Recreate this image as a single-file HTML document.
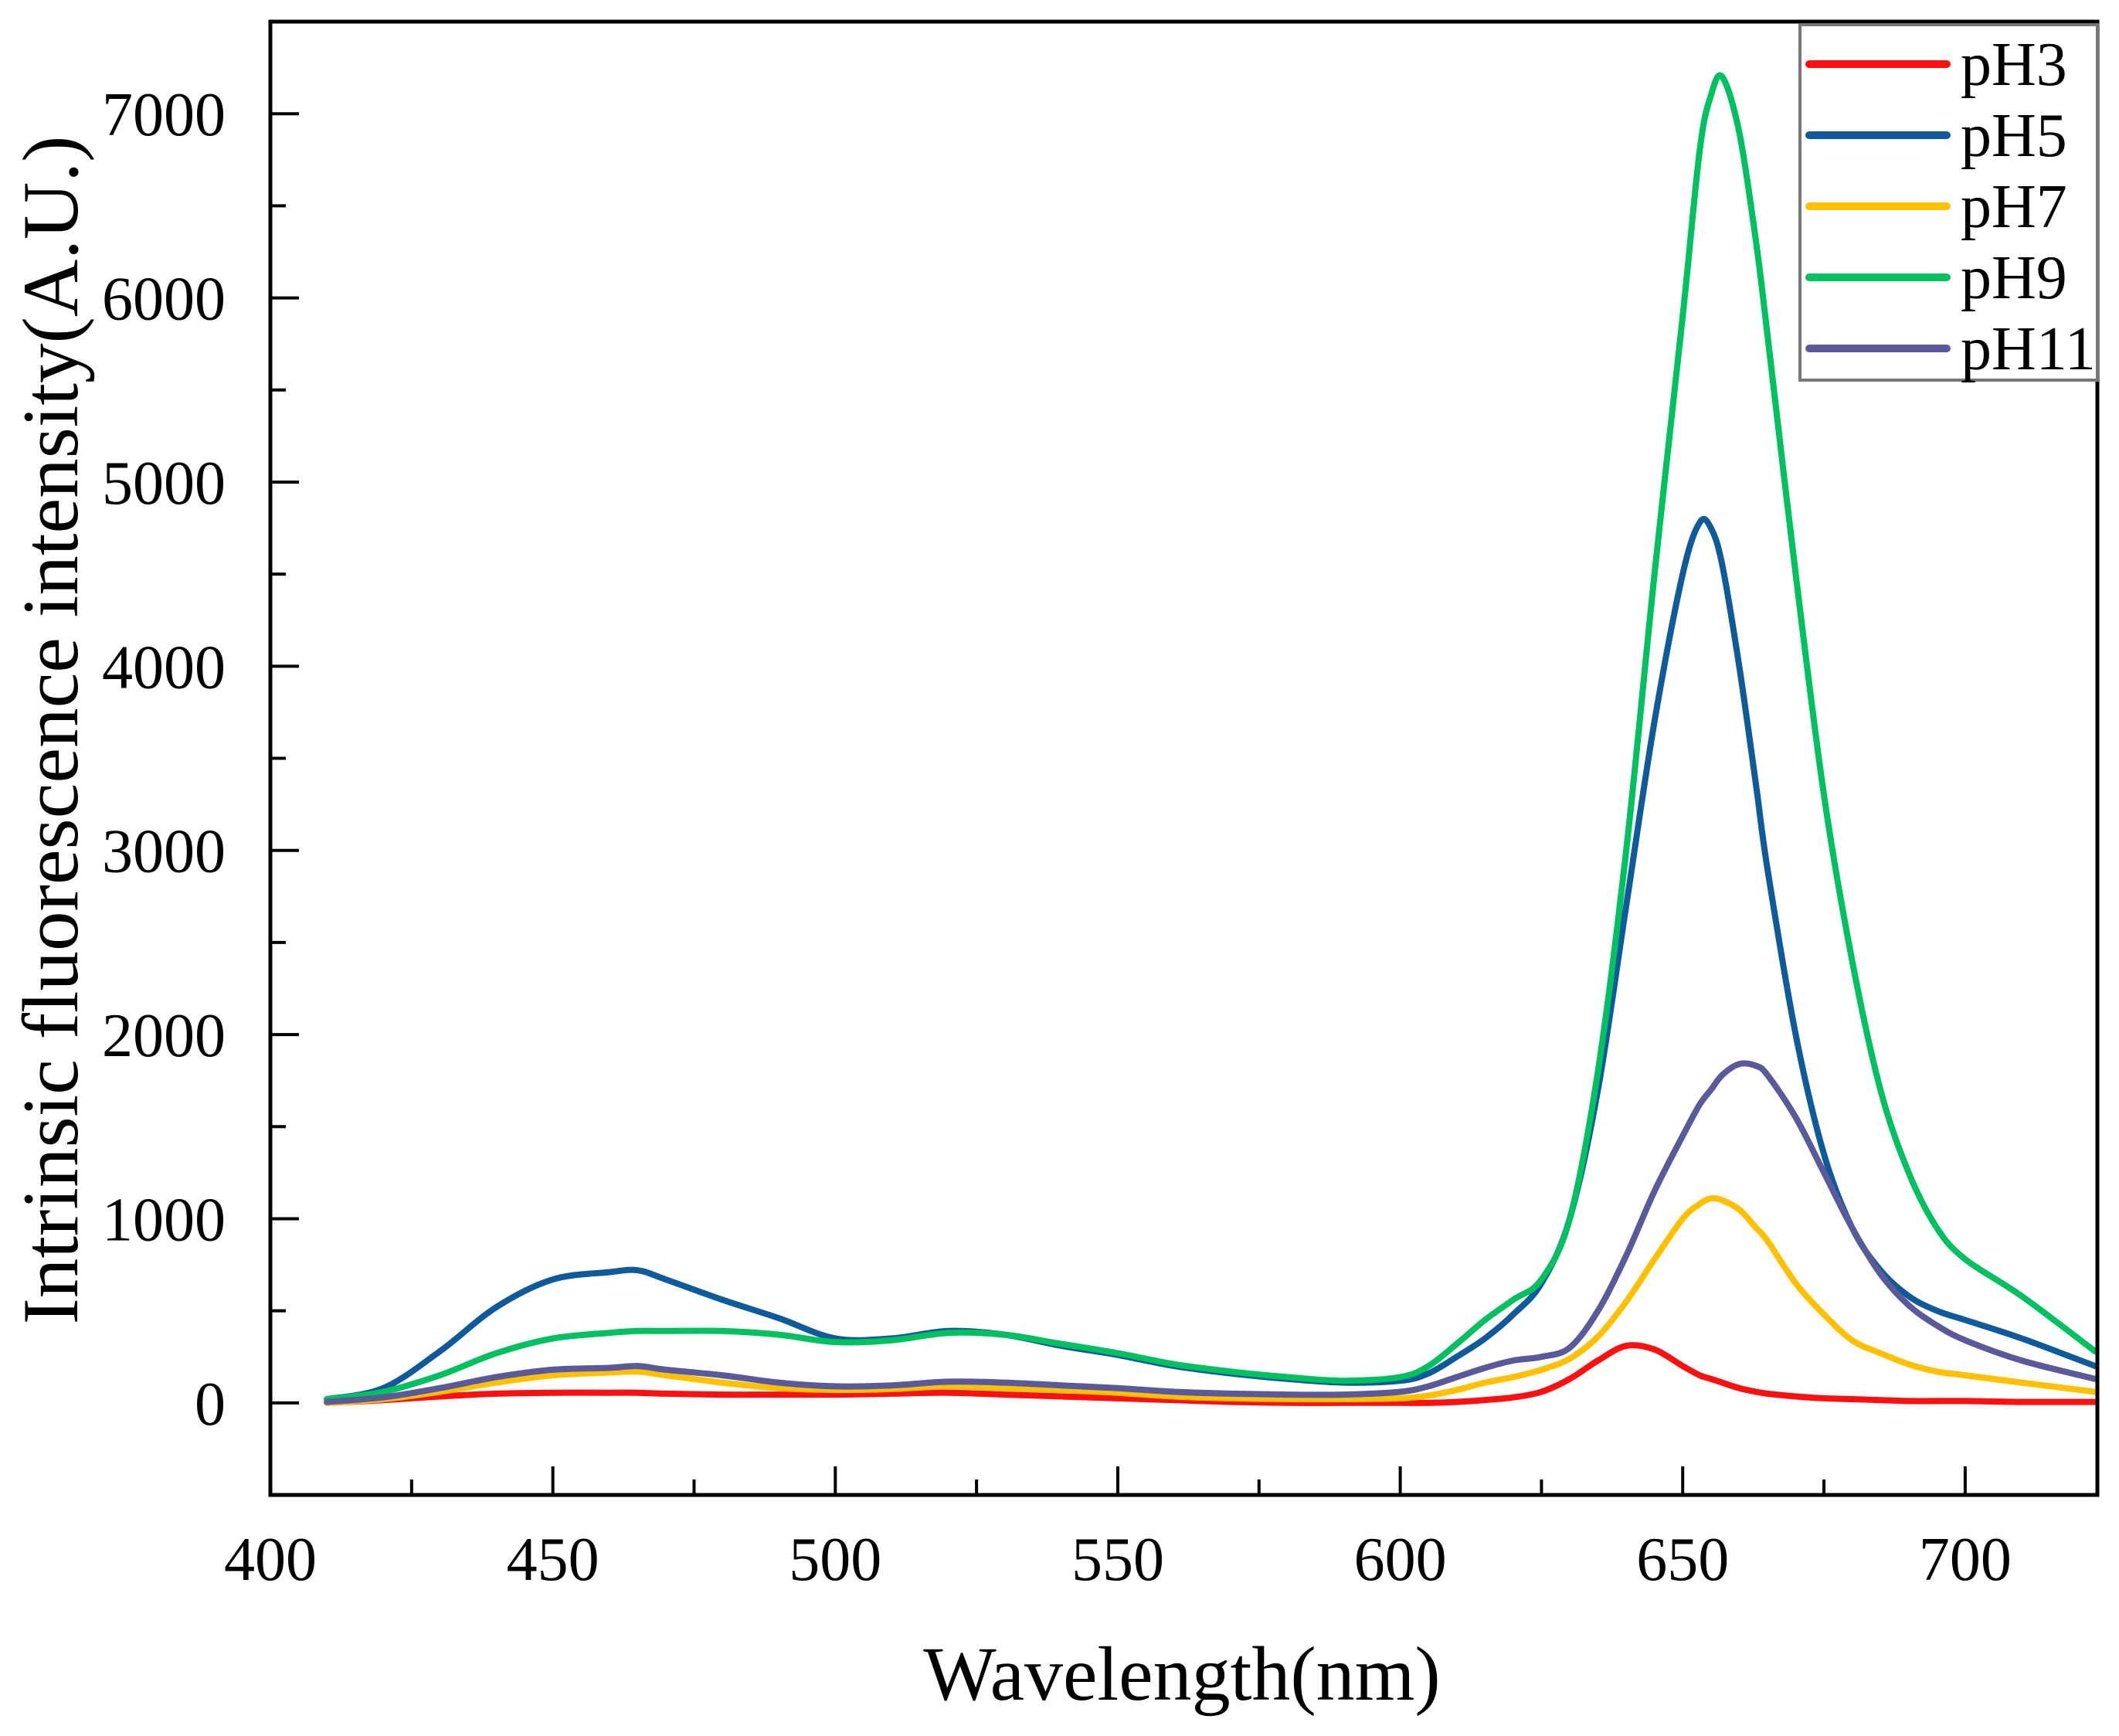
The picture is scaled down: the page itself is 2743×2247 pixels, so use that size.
<!DOCTYPE html>
<html><head><meta charset="utf-8"><style>
html,body{margin:0;padding:0;background:#fff;}
svg{display:block;font-family:"Liberation Serif","Times New Roman",serif;}
</style></head><body>
<svg id="chart" width="2743" height="2247" viewBox="0 0 2743 2247">
<g id="series"></g>
<rect x="350" y="28" width="2365" height="1907" fill="none" stroke="#000" stroke-width="5"/>
<g id="ticks"></g>
<text x="100" y="945" font-size="103" text-anchor="middle" transform="rotate(-90 100 945)">Intrinsic fluorescence intensity(A.U.)</text>
<text x="1530" y="2200" font-size="100" text-anchor="middle">Wavelength(nm)</text>
<g>
<rect x="2330" y="32" width="385" height="460" fill="#fff" stroke="#777" stroke-width="4"/>
<g id="legend-items"></g>
</g>
</svg>
<script>
const wavelengths=[410,420,430,440,450,460,465,470,480,490,500,510,520,530,540,550,560,570,580,590,600,605,610,615,620,625,630,635,640,645,650,653,655,657,660,663,665,670,675,680,685,690,695,700,710,723];
const pH3=[0,15,35,50,55,55,55,50,45,45,45,50,55,45,35,25,15,5,0,0,0,0,5,15,30,60,130,230,310,290,200,150,130,110,80,60,50,35,25,20,15,10,10,10,5,5];
const pH5=[20,80,280,520,670,710,720,670,560,460,350,350,390,370,310,260,200,160,130,110,120,160,250,350,480,650,1000,1700,2700,3700,4500,4780,4750,4550,4000,3350,2900,2000,1350,950,720,580,500,450,350,200];
const pH7=[0,20,60,110,150,165,170,150,110,80,70,75,90,80,70,55,35,25,20,20,25,40,70,110,140,180,240,360,550,780,1000,1080,1110,1100,1050,950,880,650,480,340,270,210,170,150,110,60];
const pH9=[20,60,150,270,350,380,390,390,390,370,330,340,380,370,320,270,210,170,140,120,140,200,320,450,560,670,1000,1800,3000,4500,5900,6800,7100,7200,6900,6300,5800,4500,3300,2400,1700,1250,950,780,580,280];
const pH11=[5,30,80,140,180,190,200,180,150,110,90,95,115,110,95,80,60,50,45,45,60,90,140,190,230,250,300,500,800,1150,1450,1620,1700,1780,1840,1830,1780,1550,1250,950,700,530,420,340,230,130];
const seriesNames=["pH3","pH5","pH7","pH9","pH11"];
const seriesColors=["#ff1010","#0f5a9a","#ffc000","#00c060","#5a5a9a"];
const xTicks=[400,450,500,550,600,650,700];
const yTicks=[0,1000,2000,3000,4000,5000,6000,7000];
const X0=400,X1=723.4,Y0=-500,Y1=7500,L=350,R=2715,T=28,B=1935;
const sx=v=>L+(v-X0)/(X1-X0)*(R-L);
const sy=v=>B-(v-Y0)/(Y1-Y0)*(B-T);
const NS="http://www.w3.org/2000/svg";
function mk(t,a){const e=document.createElementNS(NS,t);for(const k in a)e.setAttribute(k,a[k]);return e;}
function smooth(P){
  let d="M"+P[0][0].toFixed(1)+","+P[0][1].toFixed(1);
  for(let i=0;i<P.length-1;i++){
    const p0=P[Math.max(0,i-1)],p1=P[i],p2=P[i+1],p3=P[Math.min(P.length-1,i+2)];
    const c1=[p1[0]+(p2[0]-p0[0])/6,p1[1]+(p2[1]-p0[1])/6];
    const c2=[p2[0]-(p3[0]-p1[0])/6,p2[1]-(p3[1]-p1[1])/6];
    d+=" C"+c1[0].toFixed(1)+","+c1[1].toFixed(1)+" "+c2[0].toFixed(1)+","+c2[1].toFixed(1)+" "+p2[0].toFixed(1)+","+p2[1].toFixed(1);
  }
  return d;
}
const sg=document.getElementById('series');
[pH3,pH5,pH7,pH9,pH11].forEach((d,i)=>{
  const P=d.map((v,j)=>[sx(wavelengths[j]),sy(v)]);
  const p=mk('path',{d:smooth(P),fill:"none",stroke:seriesColors[i],"stroke-width":8,"stroke-linejoin":"round","stroke-linecap":"round"});
  
  
  sg.appendChild(p);
});
const tg=document.getElementById('ticks');
for(let v=425;v<=700;v+=25){
  const maj=v%50===0;const x=sx(v);
  const l=mk('line',{x1:x,y1:B,x2:x,y2:B-(maj?37:20),stroke:"#000","stroke-width":4});
  
  
  tg.appendChild(l);
}
xTicks.forEach(v=>{
  const t=mk('text',{x:sx(v),y:2045,"font-size":80,"text-anchor":"middle"});
  t.textContent=v;
  
  
  tg.appendChild(t);
});
for(let v=-500;v<=7500;v+=500){
  const maj=v%1000===0;const y=sy(v);
  const l=mk('line',{x1:L,y1:y,x2:L+(maj?37:20),y2:y,stroke:"#000","stroke-width":4});
  
  
  tg.appendChild(l);
}
yTicks.forEach(v=>{
  const t=mk('text',{x:292,y:sy(v)+28,"font-size":80,"text-anchor":"end"});
  t.textContent=v;
  
  
  tg.appendChild(t);
});
const lg=document.getElementById('legend-items');
seriesNames.forEach((n,i)=>{
  const y=83+i*92;
  const l=mk('line',{x1:2342,y1:y,x2:2520,y2:y,stroke:seriesColors[i],"stroke-width":10,"stroke-linecap":"round"});
  
  
  lg.appendChild(l);
  const t=mk('text',{x:2538,y:y+27,"font-size":80});
  t.textContent=n;
  
  
  lg.appendChild(t);
});
</script>
</body></html>
